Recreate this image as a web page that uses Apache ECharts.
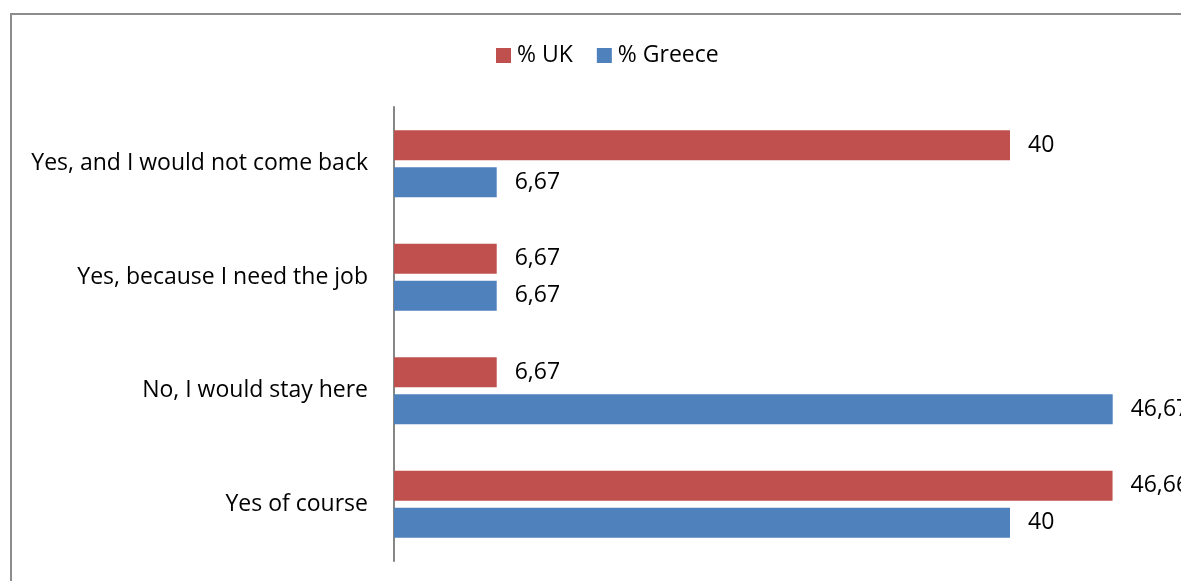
<!DOCTYPE html>
<html>
<head>
<meta charset="utf-8">
<script src="https://cdn.jsdelivr.net/npm/echarts@6/dist/echarts.min.js"></script>
<style>
  html, body { margin: 0; padding: 0; background: #ffffff; }
  #chart { width: 1181px; height: 581px; }
</style>
</head>
<body>
<div id="chart"></div>
<script>
// Answer categories, listed top to bottom
const categories = [
  'Yes, and I would not come back',
  'Yes, because I need the job',
  'No, I would stay here',
  'Yes of course'
];
// Percentages per country
const ukValues = [40, 6.67, 6.67, 46.66];
const greeceValues = [6.67, 6.67, 46.67, 40];
const seriesNames = ['% UK', '% Greece'];

const FONT = '"Open Sans", Lato, sans-serif';
const FONT_SIZE = 23;
const fmt = v => String(v.value).replace('.', ',');

const chart = echarts.init(document.getElementById('chart'));

const labelStyle = {
  show: true,
  position: 'right',
  distance: 18,
  color: '#000000',
  fontFamily: FONT,
  fontSize: FONT_SIZE,
  padding: [4, 0, 0, 0],
  formatter: fmt
};

chart.setOption({
  animation: false,
  backgroundColor: '#ffffff',
  graphic: [{
    type: 'rect',
    shape: { x: 11, y: 14, width: 1300, height: 700 },
    style: { fill: 'none', stroke: '#8c8c8c', lineWidth: 2 },
    silent: true
  }],
  legend: {
    top: 39,
    left: 491,
    itemWidth: 15,
    itemHeight: 15,
    itemGap: 24,
    icon: 'rect',
    textStyle: { fontFamily: FONT, fontSize: FONT_SIZE, color: '#000000', padding: [0, 0, 0, 1] },
    data: seriesNames
  },
  grid: { left: 394, right: 17, top: 107, bottom: 20, containLabel: false },
  xAxis: {
    type: 'value',
    min: 0,
    max: 50,
    show: false
  },
  yAxis: {
    type: 'category',
    inverse: true,
    data: categories,
    axisLine: { show: true, lineStyle: { color: '#868686', width: 2 } },
    axisTick: { show: false },
    axisLabel: {
      margin: 26,
      color: '#000000',
      fontFamily: FONT,
      fontSize: FONT_SIZE,
      padding: [4, 0, 0, 0]
    }
  },
  series: [
    {
      name: seriesNames[0],
      type: 'bar',
      data: ukValues,
      barWidth: 30,
      barGap: '23%',
      itemStyle: { color: '#c0504d' },
      label: labelStyle
    },
    {
      name: seriesNames[1],
      type: 'bar',
      data: greeceValues,
      barWidth: 30,
      itemStyle: { color: '#4f81bd' },
      label: labelStyle
    }
  ]
});
</script>
</body>
</html>
